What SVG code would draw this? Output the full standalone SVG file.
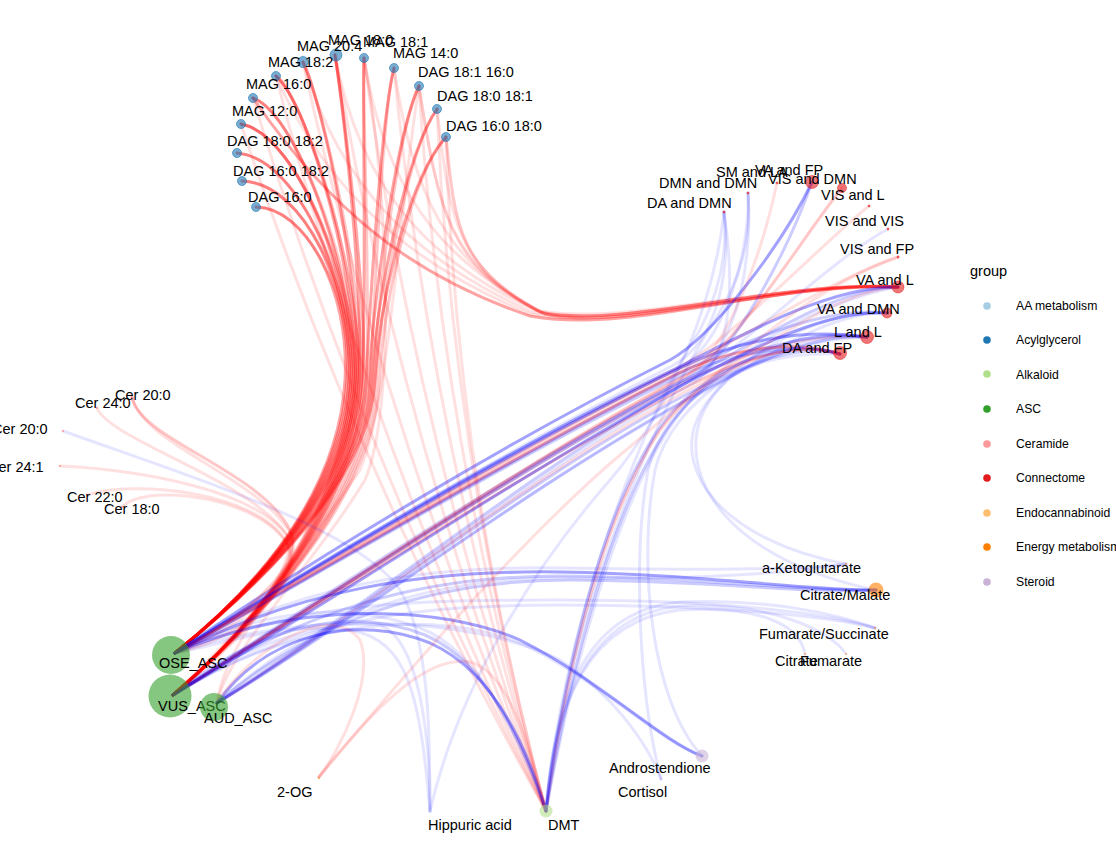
<svg xmlns="http://www.w3.org/2000/svg" width="1116" height="864" viewBox="0 0 1116 864">
<style>
.e{fill:none;stroke-width:3;stroke-linecap:round}
.r1{stroke:#ff0000;stroke-opacity:.36}
.r2{stroke:#ff0000;stroke-opacity:.22}
.r3{stroke:#ff0000;stroke-opacity:.12}
.b1{stroke:#0000ff;stroke-opacity:.36}
.b2{stroke:#0000ff;stroke-opacity:.2}
.b3{stroke:#0000ff;stroke-opacity:.1}
.t{font-family:"Liberation Sans",Arial,sans-serif;font-size:14.5px;fill:#000}
.lg{font-family:"Liberation Sans",Arial,sans-serif;font-size:12.2px;fill:#000}
.asc{fill:#33a02c;fill-opacity:.6}
.acyl{fill:#1f78b4;fill-opacity:.6;stroke:#1f78b4;stroke-opacity:.6;stroke-width:1}
.con{fill:#e31a1c;fill-opacity:.6;stroke:#e31a1c;stroke-opacity:.5;stroke-width:1}
.cer{fill:#fb9a99}
.en{fill:#ff7f00;fill-opacity:.6}
.alk{fill:#b2df8a;fill-opacity:.6}
.ste{fill:#cab2d6;fill-opacity:.6}
.aa{fill:#a6cee3}
</style>
<rect width="1116" height="864" fill="#ffffff"/>
<g id="connectors" class="e">
<!-- OSE -> acylglycerol -->
<path class="r1" d="M175,653 C285,565 340,470 345,380 C350,290 305,207 256,207"/>
<path class="r1" d="M175,653 C285,565 342,470 347,380 C352,290 305,183 242,181"/>
<path class="r1" d="M175,653 C285,565 344,470 349,380 C354,290 300,158 237,153"/>
<path class="r1" d="M175,653 C285,565 346,470 351,380 C356,290 300,135 241,124"/>
<path class="r1" d="M175,653 C285,565 348,470 353,380 C358,290 300,115 253,98"/>
<path class="r1" d="M175,653 C285,565 350,470 355,380 C360,290 310,105 276,76"/>
<path class="r1" d="M175,653 C285,565 352,470 357,380 C362,290 322,100 303,62"/>
<path class="r1" d="M175,653 C285,565 354,470 359,380 C364,290 342,100 335,55"/>
<path class="r1" d="M175,653 C285,565 357,470 362,380 C367,290 362,100 364,58"/>
<path class="r1" d="M175,653 C285,565 361,470 366,380 C371,290 382,115 394,68"/>
<path class="r1" d="M175,653 C285,565 364,470 369,380 C374,290 398,130 419,86"/>
<path class="r1" d="M175,653 C285,565 367,470 372,380 C377,290 408,150 437,109"/>
<path class="r1" d="M175,653 C285,565 370,470 375,380 C380,290 412,175 446,137"/>
<!-- VUS -> acylglycerol -->
<path class="r2" d="M173,695 C290,595 344,480 349,385 C354,295 305,207 256,207"/>
<path class="r2" d="M173,695 C290,595 346,480 351,385 C356,295 305,183 242,181"/>
<path class="r2" d="M173,695 C290,595 348,480 353,385 C358,295 300,158 237,153"/>
<path class="r1" d="M173,695 C290,595 350,480 355,385 C360,295 300,135 241,124"/>
<path class="r2" d="M173,695 C290,595 352,480 357,385 C362,295 300,115 253,98"/>
<path class="r1" d="M173,695 C290,595 354,480 359,385 C364,295 310,105 276,76"/>
<path class="r2" d="M173,695 C290,595 356,480 361,385 C366,295 322,100 303,62"/>
<path class="r1" d="M173,695 C290,595 358,480 363,385 C368,295 342,100 335,55"/>
<path class="r2" d="M173,695 C290,595 361,480 366,385 C371,295 362,100 364,58"/>
<path class="r2" d="M173,695 C290,595 365,480 370,385 C375,295 382,115 394,68"/>
<path class="r2" d="M173,695 C290,595 368,480 373,385 C378,295 398,130 419,86"/>
<path class="r2" d="M173,695 C290,595 371,480 376,385 C381,295 408,150 437,109"/>
<path class="r2" d="M173,695 C290,595 374,480 379,385 C384,295 412,175 446,137"/>
<path class="r3" d="M217,703 C225,640 300,560 360,470 C390,400 400,200 419,86"/>
<path class="r3" d="M217,703 C228,650 310,570 365,480 C395,410 390,200 364,58"/>
<!-- acylglycerol -> VA and L -->
<path class="r3" d="M364,58 C384,188 440,260 540,312 C620,330 780,280 898,287"/>
<path class="r3" d="M394,68 C414,198 445,262 540,312 C620,330 780,280 898,287"/>
<path class="r2" d="M419,86 C439,216 450,265 540,312 C620,330 780,280 898,287"/>
<path class="r3" d="M437,109 C450,220 455,268 545,314 C620,332 780,282 898,287"/>
<path class="r2" d="M446,137 C455,230 460,270 545,314 C620,332 780,282 898,287"/>
<path class="r3" d="M335,55 C360,190 430,262 535,310 C620,328 780,280 898,287"/>
<path class="r3" d="M303,62 C340,190 420,262 532,312 C620,330 780,280 898,287"/>
<path class="r3" d="M276,76 C330,200 420,268 530,314 C620,332 780,282 898,287"/>
<path class="r1" d="M253,98 C330,210 410,275 530,316 C630,335 780,280 898,287"/>
<!-- acylglycerol -> DMT -->
<path class="r3" d="M335,55 Q400,433 546,811"/>
<path class="r3" d="M364,58 Q415,435 546,811"/>
<path class="r3" d="M394,68 Q430,440 546,811"/>
<path class="r3" d="M419,86 Q442,448 546,811"/>
<path class="r3" d="M437,109 Q452,460 546,811"/>
<path class="r3" d="M446,137 Q456,474 546,811"/>
<path class="r3" d="M303,62 Q385,436 546,811"/>
<path class="r3" d="M276,76 Q370,444 546,811"/>
<path class="r3" d="M253,98 Q360,455 546,811"/>
<path class="r3" d="M241,124 Q354,468 546,811"/>
<!-- ASC -> connectome (diagonal bundle) -->
<path class="r1" d="M175,653 C330,565 515,455 675,375 C725,350 790,338 840,354"/>
<path class="r2" d="M173,695 C320,605 525,470 690,385 C740,360 795,340 840,354"/>
<path class="b2" d="M217,703 C360,615 540,470 695,390 C745,365 800,342 840,354"/>
<path class="b2" d="M175,653 C318,575 505,462 672,380 C722,355 792,340 840,354"/>
<path class="b1" d="M175,653 C335,555 520,445 680,368 C730,343 800,327 867,337"/>
<path class="b2" d="M173,695 C325,598 530,462 688,380 C738,355 802,330 867,337"/>
<path class="b2" d="M217,703 C355,620 545,475 700,392 C750,367 808,333 867,337"/>
<path class="r3" d="M173,695 C312,610 518,468 684,382 C734,357 805,332 867,337"/>
<path class="b2" d="M175,653 C325,570 510,458 678,374 C728,349 820,305 887,313"/>
<path class="b1" d="M173,695 C315,612 520,475 686,383 C736,358 822,308 887,313"/>
<path class="b3" d="M217,703 C350,625 535,480 698,395 C748,370 825,310 887,313"/>
<path class="b1" d="M175,653 C340,550 525,440 683,365 C733,340 830,285 898,287"/>
<path class="b2" d="M173,695 C330,592 535,455 692,376 C742,351 832,288 898,287"/>
<path class="r3" d="M217,703 C365,610 545,465 696,386 C746,361 834,290 898,287"/>
<path class="r3" d="M175,653 C328,562 518,450 680,370 C730,345 830,280 898,257"/>
<path class="b3" d="M173,695 C322,602 528,462 688,378 C738,353 830,260 888,229"/>
<path class="r3" d="M175,653 C332,560 520,448 678,368 C728,343 820,245 869,206"/>
<path class="r2" d="M173,695 C328,598 530,458 686,375 C736,350 800,240 842,188"/>
<path class="b1" d="M175,653 C330,548 515,438 670,360 C715,335 785,240 812,182"/>
<path class="b2" d="M217,703 C358,612 538,465 688,382 C735,355 790,245 812,182"/>
<path class="r3" d="M173,695 C326,600 528,460 684,378 C730,352 765,240 777,183"/>
<path class="b3" d="M175,653 C332,558 518,448 676,370 C726,345 750,250 748,193"/>
<path class="b3" d="M173,695 C330,598 532,458 690,376 C740,350 752,255 748,193"/>
<path class="b3" d="M175,653 C328,556 515,446 672,366 C722,340 730,260 724,212"/>
<path class="b3" d="M217,703 C362,612 542,465 692,384 C738,358 732,265 724,212"/>
<!-- DMT -> connectome -->
<path class="r2" d="M546,811 C565,680 600,520 660,430 C700,375 780,335 840,354"/>
<path class="b2" d="M546,811 C563,680 598,520 658,430 C698,373 780,333 840,354"/>
<path class="b2" d="M546,811 C568,680 610,510 670,425 C710,370 790,325 867,337"/>
<path class="b3" d="M546,811 C570,680 615,505 675,420 C715,360 820,300 898,287"/>
<path class="b3" d="M546,811 C560,640 640,420 700,330 C720,290 728,250 724,212"/>
<path class="b3" d="M546,811 C562,640 650,420 715,320 C740,280 752,240 748,193"/>
<!-- ASC -> energy / steroid / DMT / others -->
<path class="b1" d="M175,653 C300,590 420,570 560,572 C700,574 800,590 876,590"/>
<path class="b2" d="M173,695 C300,610 420,576 560,576 C700,577 800,592 876,590"/>
<path class="b2" d="M217,703 C320,615 440,580 570,580 C700,580 805,594 876,590"/>
<path class="b3" d="M175,653 C300,585 420,566 560,568 C700,570 800,570 846,564"/>
<path class="b3" d="M217,703 C320,610 440,575 580,578 C700,580 800,572 846,564"/>
<path class="b3" d="M175,653 C300,600 430,600 560,600 C700,600 820,610 875,628"/>
<path class="b3" d="M173,695 C300,615 430,605 560,605 C700,605 820,614 875,628"/>
<path class="b1" d="M175,653 C300,600 440,605 520,640 C600,680 660,740 702,756"/>
<path class="b3" d="M173,695 C300,615 445,610 525,645 C605,685 660,742 702,756"/>
<path class="b1" d="M217,703 C270,630 360,615 430,643 C490,670 525,740 546,811"/>
<path class="b2" d="M173,695 C260,625 350,605 425,635 C485,660 522,740 546,811"/>
<path class="b3" d="M175,653 C260,610 345,600 420,628 C480,650 520,740 546,811"/>
<path class="b3" d="M173,695 C250,640 330,620 380,625 C420,640 430,740 430,811"/>
<path class="b3" d="M175,653 C300,610 470,615 560,660 C620,700 650,750 661,779"/>
<!-- DMT -> energy -->
<path class="b3" d="M546,811 C555,690 590,610 680,602 C770,598 840,615 875,628"/>
<path class="b3" d="M546,811 C555,700 590,620 680,610 C760,605 800,625 805,654"/>
<path class="b3" d="M546,811 C555,700 590,615 680,606 C770,602 830,630 846,654"/>
<!-- energy -> connectome -->
<path class="b3" d="M846,564 C720,540 675,470 697,420 C715,375 790,330 867,337"/>
<path class="b3" d="M876,590 C730,560 680,480 700,420 C720,365 810,310 887,313"/>
<!-- steroid -> connectome -->
<path class="b3" d="M661,779 C640,700 632,560 648,470 C665,400 740,350 840,354"/>
<path class="b3" d="M702,756 C650,700 638,560 655,470 C672,400 760,340 867,337"/>
<!-- hippuric -->
<path class="b3" d="M430,811 C460,680 540,560 610,480 C670,410 715,300 724,212"/>
<path class="b3" d="M430,811 C420,700 410,640 350,630 C280,622 220,645 175,653"/>
<path class="b3" d="M63,431 C200,480 360,530 400,590 C430,640 430,740 430,811"/>
<!-- 2-OG -->
<path class="r3" d="M217,703 C250,650 330,600 360,640 C375,680 340,750 319,777"/>
<path class="r3" d="M319,777 C380,700 430,655 470,662 C510,672 530,750 546,811"/>
<path class="r3" d="M319,777 C400,680 520,540 620,455 C700,390 800,290 898,257"/>
<!-- ceramide -> ASC -->
<path class="r2" d="M132,397 C140,440 260,470 290,530 C305,570 240,620 175,653"/>
<path class="r3" d="M132,397 C142,445 262,478 292,536 C306,575 240,640 173,695"/>
<path class="r3" d="M97,408 C110,440 250,480 287,535 C300,570 240,630 173,695"/>
<path class="r3" d="M60,466 C140,470 260,490 290,540 C305,575 240,630 175,653"/>
<path class="r3" d="M87,495 C130,480 260,490 288,545 C300,580 240,640 173,695"/>
<path class="r3" d="M122,507 C150,480 270,500 290,550 C300,585 240,640 175,653"/>
</g>
<g id="node-OSE_ASC"><circle class="asc" cx="171" cy="655" r="19"/><text class="t" x="159" y="668">OSE_ASC</text></g>
<g id="node-VUS_ASC"><circle class="asc" cx="170" cy="696" r="21.5"/><text class="t" x="158" y="711">VUS_ASC</text></g>
<g id="node-AUD_ASC"><circle class="asc" cx="214" cy="707" r="14"/><text class="t" x="204" y="723">AUD_ASC</text></g>
<g id="node-MAG_18_0"><circle class="acyl" cx="336" cy="55" r="6"/><text class="t" x="328" y="45">MAG 18:0</text></g>
<g id="node-MAG_20_4"><circle class="acyl" cx="303" cy="62" r="5.5"/><text class="t" x="297" y="51">MAG 20:4</text></g>
<g id="node-MAG_18_1"><circle class="acyl" cx="364" cy="58" r="4.5"/><text class="t" x="363" y="47">MAG 18:1</text></g>
<g id="node-MAG_14_0"><circle class="acyl" cx="394" cy="68" r="4.5"/><text class="t" x="393" y="58">MAG 14:0</text></g>
<g id="node-DAG_18_1_16_0"><circle class="acyl" cx="419" cy="86" r="4.5"/><text class="t" x="418" y="77">DAG 18:1 16:0</text></g>
<g id="node-DAG_18_0_18_1"><circle class="acyl" cx="437" cy="109" r="4.5"/><text class="t" x="437" y="101">DAG 18:0 18:1</text></g>
<g id="node-DAG_16_0_18_0"><circle class="acyl" cx="446" cy="137" r="4.5"/><text class="t" x="446" y="131">DAG 16:0 18:0</text></g>
<g id="node-MAG_18_2"><circle class="acyl" cx="276" cy="76" r="4.5"/><text class="t" x="268" y="67">MAG 18:2</text></g>
<g id="node-MAG_16_0"><circle class="acyl" cx="253" cy="98" r="4.5"/><text class="t" x="246" y="89">MAG 16:0</text></g>
<g id="node-MAG_12_0"><circle class="acyl" cx="241" cy="124" r="4.5"/><text class="t" x="232" y="116">MAG 12:0</text></g>
<g id="node-DAG_18_0_18_2"><circle class="acyl" cx="237" cy="153" r="4.5"/><text class="t" x="227" y="146">DAG 18:0 18:2</text></g>
<g id="node-DAG_16_0_18_2"><circle class="acyl" cx="242" cy="181" r="4.5"/><text class="t" x="233" y="176">DAG 16:0 18:2</text></g>
<g id="node-DAG_16_0"><circle class="acyl" cx="256" cy="207" r="4.5"/><text class="t" x="248" y="202">DAG 16:0</text></g>
<g id="node-SM_and_LA"><circle class="con" cx="777" cy="183" r="1"/><text class="t" x="716" y="177">SM and LA</text></g>
<g id="node-VA_and_FP"><circle class="con" cx="842" cy="188" r="4.5"/><text class="t" x="755" y="175">VA and FP</text></g>
<g id="node-VIS_and_DMN"><circle class="con" cx="812" cy="182" r="6.5"/><text class="t" x="768" y="184">VIS and DMN</text></g>
<g id="node-DMN_and_DMN"><circle class="con" cx="748" cy="193" r="1"/><text class="t" x="659" y="188">DMN and DMN</text></g>
<g id="node-DA_and_DMN"><circle class="con" cx="724" cy="212" r="1"/><text class="t" x="647" y="208">DA and DMN</text></g>
<g id="node-VIS_and_L"><circle class="con" cx="869" cy="206" r="1"/><text class="t" x="821" y="200">VIS and L</text></g>
<g id="node-VIS_and_VIS"><circle class="con" cx="888" cy="229" r="1"/><text class="t" x="825" y="226">VIS and VIS</text></g>
<g id="node-VIS_and_FP"><circle class="con" cx="898" cy="257" r="1"/><text class="t" x="840" y="254">VIS and FP</text></g>
<g id="node-VA_and_L"><circle class="con" cx="898" cy="287" r="6"/><text class="t" x="856" y="285">VA and L</text></g>
<g id="node-VA_and_DMN"><circle class="con" cx="887" cy="313" r="5"/><text class="t" x="817" y="314">VA and DMN</text></g>
<g id="node-L_and_L"><circle class="con" cx="867" cy="337" r="6.5"/><text class="t" x="834" y="337">L and L</text></g>
<g id="node-DA_and_FP"><circle class="con" cx="840" cy="353" r="6.5"/><text class="t" x="782" y="353">DA and FP</text></g>
<g id="node-Cer_20_0_a"><circle class="cer" cx="132" cy="397" r="1"/><text class="t" x="115" y="400">Cer 20:0</text></g>
<g id="node-Cer_24_0"><circle class="cer" cx="97" cy="408" r="1"/><text class="t" x="75" y="408">Cer 24:0</text></g>
<g id="node-Cer_20_0_b"><circle class="cer" cx="63" cy="431" r="1"/><text class="t" x="-8" y="434">Cer 20:0</text></g>
<g id="node-Cer_24_1"><circle class="cer" cx="60" cy="466" r="1"/><text class="t" x="-12" y="472">Cer 24:1</text></g>
<g id="node-Cer_22_0"><circle class="cer" cx="87" cy="495" r="1"/><text class="t" x="67" y="502">Cer 22:0</text></g>
<g id="node-Cer_18_0"><circle class="cer" cx="122" cy="507" r="1"/><text class="t" x="104" y="514">Cer 18:0</text></g>
<g id="node-a-Ketoglutarate"><circle class="en" cx="846" cy="564" r="1"/><text class="t" x="762" y="573">a-Ketoglutarate</text></g>
<g id="node-Citrate_Malate"><circle class="en" cx="876" cy="590" r="7.5"/><text class="t" x="800" y="600">Citrate/Malate</text></g>
<g id="node-Fumarate_Succinate"><circle class="en" cx="875" cy="628" r="1"/><text class="t" x="759" y="639">Fumarate/Succinate</text></g>
<g id="node-Citrate"><circle class="en" cx="805" cy="654" r="1"/><text class="t" x="775" y="666">Citrate</text></g>
<g id="node-Fumarate"><circle class="en" cx="846" cy="654" r="1"/><text class="t" x="800" y="666">Fumarate</text></g>
<g id="node-2-OG"><circle class="en" cx="319" cy="778" r="1"/><text class="t" x="277" y="797">2-OG</text></g>
<g id="node-Hippuric_acid"><circle class="aa" cx="430" cy="811" r="1"/><text class="t" x="428" y="830">Hippuric acid</text></g>
<g id="node-DMT"><circle class="alk" cx="546" cy="811" r="6.5"/><text class="t" x="548" y="830">DMT</text></g>
<g id="node-Androstendione"><circle class="ste" cx="702" cy="756" r="6.5"/><text class="t" x="609" y="773">Androstendione</text></g>
<g id="node-Cortisol"><circle class="ste" cx="661" cy="779" r="1"/><text class="t" x="618" y="797">Cortisol</text></g>
<g id="legend">
<text class="t" x="970" y="276">group</text>
<circle cx="987" cy="306" r="3.8" fill="#a6cee3"/><text class="lg" x="1016" y="310">AA metabolism</text>
<circle cx="987" cy="340" r="3.8" fill="#1f78b4"/><text class="lg" x="1016" y="344">Acylglycerol</text>
<circle cx="987" cy="374" r="3.8" fill="#b2df8a"/><text class="lg" x="1016" y="379">Alkaloid</text>
<circle cx="987" cy="409" r="3.8" fill="#33a02c"/><text class="lg" x="1016" y="413">ASC</text>
<circle cx="987" cy="444" r="3.8" fill="#fb9a99"/><text class="lg" x="1016" y="448">Ceramide</text>
<circle cx="987" cy="478" r="3.8" fill="#e31a1c"/><text class="lg" x="1016" y="482">Connectome</text>
<circle cx="987" cy="513" r="3.8" fill="#fdbf6f"/><text class="lg" x="1016" y="517">Endocannabinoid</text>
<circle cx="987" cy="547" r="3.8" fill="#ff7f00"/><text class="lg" x="1016" y="551">Energy metabolism</text>
<circle cx="987" cy="582" r="3.8" fill="#cab2d6"/><text class="lg" x="1016" y="586">Steroid</text>
</g>
</svg>
